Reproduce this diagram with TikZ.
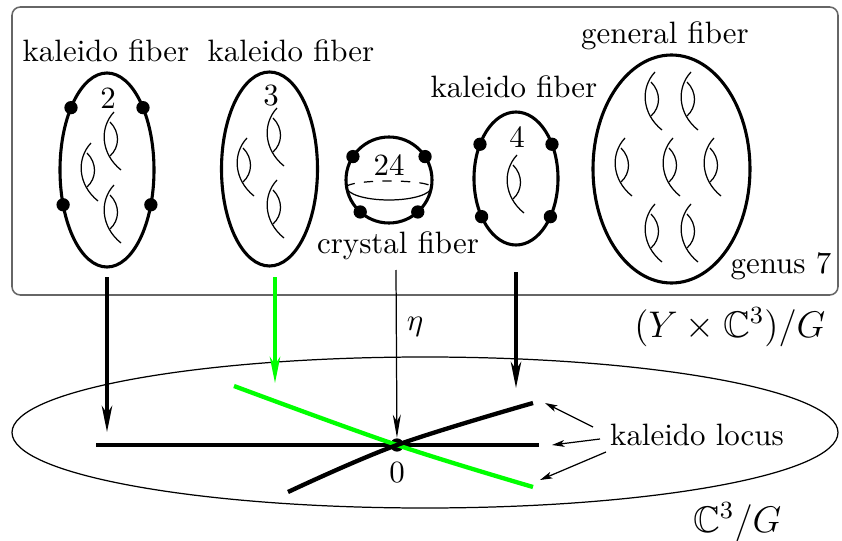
\documentclass[tikz,border=0pt]{standalone}
\usepackage{amssymb}
\usetikzlibrary{arrows.meta,calc}
\begin{document}
\begin{tikzpicture}[x=0.3236pt,y=-0.3236pt,
  fiber/.style={line width=1pt},
  hole/.style={line width=0.4pt},
  dotn/.style={circle,fill=black,inner sep=0pt,minimum size=4.3pt},
  lbl/.style={anchor=base,inner sep=0pt},
  bigarrow/.style={line width=1pt,-{Stealth[length=8.5pt,width=3.4pt,inset=2.5pt]}},
  thinarrow/.style={line width=0.4pt,-{Stealth[length=7.5pt,width=2.6pt,inset=2.2pt]}},
  pointer/.style={line width=0.4pt,-{Stealth[length=4pt,width=2.2pt,inset=1pt]}},
  locus/.style={line width=1.4pt},
  handle/.pic={
    \draw[hole] (1,-28) .. controls (-14,-12) and (-12,14) .. (8,30);
    \draw[hole] (-3,-18) .. controls (7,-8) and (7,7) .. (-3,16);
  }]
\useasboundingbox (0,0) rectangle (842,541);

% upper box
\draw[black!60,line width=0.5pt,rounded corners=2.7pt] (12,7) rectangle (838,295);

% fiber 1 (kaleido, 2)
\coordinate (c1) at (107,170);
\draw[fiber] (c1) ellipse[x radius=47,y radius=97];
\foreach \a in {220,159,320,21} \node[dotn] at ($(c1)+(\a:47 and 97)$) {};
\node[lbl] (n2) at (108,108) {2};
\node[lbl] (kf1) at (106,62) {kaleido fiber};
\pic at (90,171) {handle};
\pic at (113,140) {handle};
\pic at (113,213) {handle};

% fiber 2 (kaleido, 3)
\coordinate (c2) at (269.5,169);
\draw[fiber] (c2) ellipse[x radius=48,y radius=97];
\node[lbl] (n3) at (271,105) {3};
\node[lbl] (kf2) at (291,62) {kaleido fiber};
\pic at (246,166) {handle};
\pic at (276,136) {handle};
\pic at (276,208) {handle};

% crystal fiber (24)
\coordinate (c3) at (389,180);
\draw[fiber] (c3) circle[radius=43];
\draw[hole,dashed] (346.5,187) arc[start angle=180,end angle=360,x radius=42.5,y radius=6];
\draw[hole] (346.5,187) arc[start angle=180,end angle=0,x radius=42.5,y radius=13];
\foreach \a in {213,132,327,48} \node[dotn] at ($(c3)+(\a:43)$) {};
\node[lbl] (n24) at (389,176) {24};
\node[lbl] (cf) at (398,253) {crystal fiber};

% fiber 4 (kaleido, 4)
\coordinate (c4) at (516,178.5);
\draw[fiber] (c4) ellipse[x radius=42,y radius=66.5];
\foreach \a in {211,145,329,35} \node[dotn] at ($(c4)+(\a:42 and 66.5)$) {};
\node[lbl] (n4) at (517,147) {4};
\node[lbl] (kf4) at (514,97) {kaleido fiber};
\pic at (516,183) {handle};

% general fiber
\coordinate (c5) at (671.5,169);
\draw[fiber] (c5) ellipse[x radius=78.5,y radius=114];
\node[lbl] (gf) at (665,43) {general fiber};
\node[lbl] (g7) at (781,273) {genus 7};
\foreach \p in {(654,100),(690,100),(624,166),(672,166),(713,166),(654,232),(690,232)}
  \pic at \p {handle};

% labels of spaces
\node[anchor=base east,inner sep=0pt] (ytot) at (826,337) {\large $(Y\times\mathbb{C}^3)/G$};
\node[anchor=base east,inner sep=0pt] (base) at (782,532) {\large $\mathbb{C}^3/G$};

% base ellipse
\draw[hole] (425,432.5) ellipse[x radius=413,y radius=75.5];

% kaleido locus
\node[dotn] (o) at (397,445) {};
\draw[locus] (96,445) -- (539,445);
\draw[locus,green] plot[smooth,tension=0.6] coordinates {(234,386) (397,445) (533,487)};
\draw[locus] plot[smooth,tension=0.6] coordinates {(288,492) (397,445) (533,403)};
\node[lbl] (zero) at (397,482) {0};

% vertical maps
\coordinate (a1s) at (107,277); \coordinate (a1e) at (107,432);
\coordinate (a2s) at (275,277); \coordinate (a2e) at (275,383);
\coordinate (a4s) at (516,272); \coordinate (a4e) at (516,388);
\coordinate (es) at (396,270);
\draw[bigarrow] (a1s) -- (a1e);
\draw[bigarrow,green] (a2s) -- (a2e);
\draw[bigarrow] (a4s) -- (a4e);
\draw[thinarrow] (es) -- (o);
\node[lbl] (eta) at (415,330) {$\eta$};

% kaleido locus label and pointers
\node[lbl] (kl) at (697,445) {kaleido locus};
\coordinate (p1s) at (593,427); \coordinate (p1e) at (545,403);
\coordinate (p2s) at (600,439); \coordinate (p2e) at (552,445);
\coordinate (p3s) at (606,452); \coordinate (p3e) at (540,480);
\draw[pointer] (p1s) -- (p1e);
\draw[pointer] (p2s) -- (p2e);
\draw[pointer] (p3s) -- (p3e);
\end{tikzpicture}
\end{document}
